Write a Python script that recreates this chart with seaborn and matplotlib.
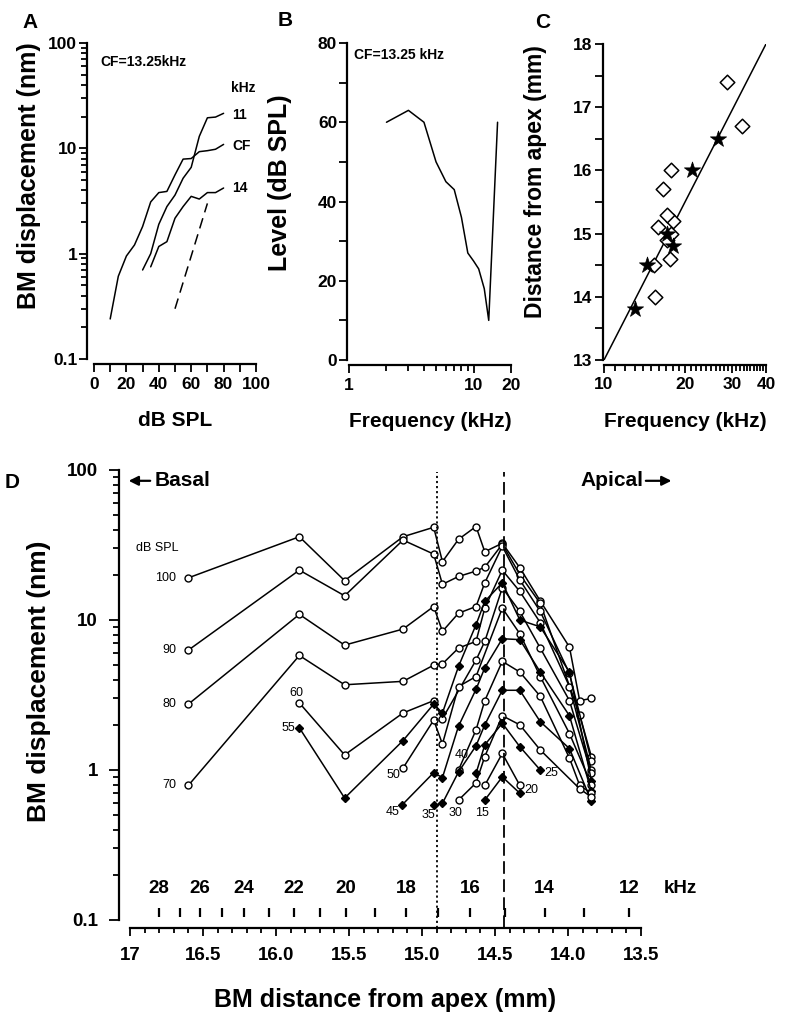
import numpy as np
import pandas as pd
import seaborn as sns
import matplotlib
matplotlib.use("Agg")
import matplotlib.pyplot as plt
from matplotlib.ticker import FixedLocator, FixedFormatter, NullFormatter, LogLocator
import matplotlib.transforms as mtransforms

# ---- panel A: input-output functions (CF = 13.25 kHz)
a_cf_db = [10, 15, 20, 25, 30, 35, 40, 45, 50, 55, 60, 65, 70, 75, 80]
a_cf_nm = [0.24, 0.61, 0.95, 1.21, 1.81, 3.1, 3.8, 3.9, 5.6, 7.9, 8.0, 9.3, 9.5, 9.8, 10.9]
a_11_db = [30, 35, 40, 45, 50, 55, 60, 65, 70, 75, 80]
a_11_nm = [0.70, 1.0, 1.9, 2.8, 3.6, 5.2, 6.6, 13.0, 19.5, 19.8, 21.5]
a_14_db = [35, 40, 45, 50, 55, 60, 65, 70, 75, 80]
a_14_nm = [0.75, 1.17, 1.30, 2.17, 2.8, 3.5, 3.3, 3.8, 3.8, 4.2]
a_post_db = [50, 70]
a_post_nm = [0.30, 3.0]

# ---- panel B: iso-response curve
b_khz = [2, 3, 4, 5, 6, 7, 8, 9, 10, 11, 12.2, 13.25, 15.6]
b_db = [60, 63, 60, 50, 45, 43, 36, 27, 25, 23, 18, 10, 60]

# ---- panel C: place-frequency map
c_star_khz = [13.0, 14.5, 17.2, 18.1, 21.3, 26.5]
c_star_mm = [13.8, 14.5, 15.0, 14.8, 16.0, 16.5]
c_diam_khz = [15.5, 15.3, 17.6, 17.1, 17.7, 18.1, 15.9, 17.1, 16.6, 17.7, 28.6, 32.5]
c_diam_mm = [14.0, 14.5, 14.6, 14.9, 15.0, 15.2, 15.1, 15.3, 15.7, 16.0, 17.4, 16.7]
c_fit_khz = [10, 40]
c_fit_mm = [13.0, 18.0]

# ---- panel D: spatial profiles of BM displacement (dB SPL levels)
d_pos_100 = [16.60, 15.84, 15.53, 15.13, 14.92, 14.86, 14.75, 14.63, 14.57, 14.45, 14.33, 14.19, 13.99, 13.92, 13.84]
d_nm_100 = [19.1, 35.9, 18.3, 35.9, 41.5, 24.5, 34.5, 42.0, 28.5, 32.5, 22.3, 13.4, 6.6, 2.9, 3.0]
d_pos_90 = [16.60, 15.84, 15.53, 15.13, 14.92, 14.86, 14.75, 14.63, 14.57, 14.45, 14.33, 14.19, 13.92, 13.84]
d_nm_90 = [6.3, 21.5, 14.5, 34.1, 27.5, 17.3, 19.5, 21.2, 22.5, 32.0, 20.1, 12.9, 2.33, 1.23]
d_pos_80 = [16.60, 15.84, 15.53, 15.13, 14.92, 14.86, 14.75, 14.63, 14.57, 14.45, 14.33, 14.19, 13.99, 13.84]
d_nm_80 = [2.75, 10.9, 6.8, 8.7, 12.3, 8.4, 11.1, 12.3, 17.7, 31.0, 18.5, 11.4, 4.4, 1.15]
d_pos_70 = [16.60, 15.84, 15.53, 15.13, 14.92, 14.86, 14.75, 14.63, 14.57, 14.45, 14.33, 14.19, 13.99, 13.84]
d_nm_70 = [0.79, 5.8, 3.7, 3.9, 5.0, 5.1, 6.5, 7.2, 12.0, 21.5, 15.5, 9.6, 3.6, 1.0]
d_pos_60 = [15.84, 15.53, 15.13, 14.92, 14.86, 14.63, 14.57, 14.45, 14.33, 14.19, 13.99, 13.84]
d_nm_60 = [2.8, 1.26, 2.4, 2.9, 2.2, 5.4, 7.2, 16.4, 11.4, 6.5, 2.9, 0.95]
d_pos_55 = [15.84, 15.53, 15.13, 14.92, 14.86, 14.75, 14.63, 14.57, 14.45, 14.33, 14.19, 13.99, 13.84]
d_nm_55 = [1.91, 0.65, 1.57, 2.75, 2.4, 4.9, 9.3, 13.3, 17.7, 10.0, 9.0, 4.5, 0.85]
d_pos_50 = [15.13, 14.92, 14.86, 14.75, 14.63, 14.45, 14.33, 14.19, 13.99, 13.84]
d_nm_50 = [1.03, 2.15, 1.49, 3.6, 4.2, 12.0, 8.1, 4.2, 1.75, 0.8]
d_pos_45 = [15.14, 14.92, 14.86, 14.75, 14.63, 14.57, 14.45, 14.33, 14.19, 13.99, 13.84]
d_nm_45 = [0.58, 0.96, 0.89, 1.96, 3.45, 4.8, 7.5, 7.4, 4.5, 2.3, 0.72]
d_pos_40 = [14.75, 14.63, 14.57, 14.45, 14.33, 14.19, 13.99, 13.92, 13.84]
d_nm_40 = [1.0, 1.85, 2.9, 5.3, 4.5, 3.1, 1.2, 0.79, 0.7]
d_pos_35 = [14.92, 14.86, 14.75, 14.63, 14.57, 14.45, 14.33, 14.19, 13.99, 13.84]
d_nm_35 = [0.58, 0.60, 0.97, 1.45, 2.0, 3.4, 3.4, 2.1, 1.39, 0.62]
d_pos_30 = [14.75, 14.63, 14.57, 14.45, 14.33, 14.19, 13.92, 13.84]
d_nm_30 = [0.63, 0.82, 1.23, 2.3, 2.0, 1.36, 0.75, 0.66]
d_pos_25 = [14.63, 14.57, 14.45, 14.33, 14.19]
d_nm_25 = [0.95, 1.47, 2.05, 1.43, 1.0]
d_pos_20 = [14.57, 14.45, 14.33]
d_nm_20 = [0.79, 1.29, 0.79]
d_pos_15 = [14.57, 14.45, 14.33]
d_nm_15 = [0.63, 0.90, 0.70]

# frequency scale drawn inside panel D
khz_values = [28, 27, 26, 25, 24, 23, 22, 21, 20, 19, 18, 17, 16, 15, 14, 13, 12]
khz_pos_mm = [16.80, 16.66, 16.52, 16.37, 16.22, 16.05, 15.88, 15.70, 15.52, 15.32,
              15.11, 14.89, 14.67, 14.43, 14.16, 13.89, 13.58]
khz_labelled = [28, 26, 24, 22, 20, 18, 16, 14, 12]
ref_dotted_mm = 14.90
ref_dashed_mm = 14.44

sns.set_style("ticks")
plt.rcParams['font.family'] = ['Liberation Sans', 'DejaVu Sans']
plt.rcParams['font.weight'] = 'bold'
plt.rcParams['axes.labelweight'] = 'bold'
plt.rcParams['axes.edgecolor'] = 'k'
plt.rcParams['xtick.color'] = 'k'
plt.rcParams['ytick.color'] = 'k'
plt.rcParams['text.color'] = 'k'
plt.rcParams['axes.labelcolor'] = 'k'

W, H = 787, 1032
fig = plt.figure(figsize=(W / 100, H / 100), dpi=100)
ax_a = fig.add_axes([94 / W, 1 - 359 / H, 162 / W, 316 / H])
ax_b = fig.add_axes([349 / W, 1 - 360 / H, 162 / W, 317 / H])
ax_c = fig.add_axes([604 / W, 1 - 360 / H, 162 / W, 316 / H])
ax_d = fig.add_axes([130 / W, 1 - 920 / H, 511 / W, 450 / H])


def frame(ax, left_out, bottom_out, major, minor, size, xpad, ypad):
    sns.despine(ax=ax)
    ax.spines['left'].set_position(('outward', left_out))
    ax.spines['bottom'].set_position(('outward', bottom_out))
    for s in ('left', 'bottom'):
        ax.spines[s].set_linewidth(1.6)
    ax.tick_params(which='both', direction='out', width=1.3, labelsize=size)
    ax.tick_params(which='major', length=major)
    ax.tick_params(which='minor', length=minor)
    ax.tick_params(axis='x', which='both', pad=xpad)
    ax.tick_params(axis='y', which='both', pad=ypad)


line_kw = dict(color='k', lw=1.1, estimator=None, errorbar=None, sort=False)

# ---------------- A
sns.lineplot(x=a_cf_db, y=a_cf_nm, ax=ax_a, **line_kw)
sns.lineplot(x=a_11_db, y=a_11_nm, ax=ax_a, **line_kw)
sns.lineplot(x=a_14_db, y=a_14_nm, ax=ax_a, **line_kw)
sns.lineplot(x=a_post_db, y=a_post_nm, ax=ax_a, linestyle=(0, (7, 4)), **line_kw)
ax_a.set_yscale('log')
ax_a.set_xlim(0, 100)
ax_a.set_ylim(0.1, 100)
ax_a.xaxis.set_major_locator(FixedLocator([0, 20, 40, 60, 80, 100]))
ax_a.xaxis.set_minor_locator(FixedLocator([10, 30, 50, 70, 90]))
ax_a.yaxis.set_major_locator(FixedLocator([0.1, 1, 10, 100]))
ax_a.yaxis.set_major_formatter(FixedFormatter(['0.1', '1', '10', '100']))
ax_a.yaxis.set_minor_locator(LogLocator(base=10, subs=np.arange(2, 10)))
ax_a.yaxis.set_minor_formatter(NullFormatter())
frame(ax_a, 5, 3.6, 5.5, 4, 12.5, 4, 1.5)
ax_a.tick_params(axis='x', which='minor', length=5.5)
ax_a.set_xlabel('dB SPL', fontsize=15)
ax_a.set_ylabel('BM displacement (nm)', fontsize=18)
ax_a.xaxis.set_label_coords(0.5, -0.165)
ax_a.yaxis.set_label_coords(-0.33, 0.58)
ax_a.text(0.04, 0.94, 'CF=13.25kHz', transform=ax_a.transAxes, fontsize=10, va='center')
ax_a.annotate('11', xy=(a_11_db[-1], a_11_nm[-1]), xytext=(6, -1), textcoords='offset points',
              fontsize=10, va='center')
ax_a.annotate('CF', xy=(a_cf_db[-1], a_cf_nm[-1]), xytext=(6, -1), textcoords='offset points',
              fontsize=10, va='center')
ax_a.annotate('14', xy=(a_14_db[-1], a_14_nm[-1]), xytext=(6, 0), textcoords='offset points',
              fontsize=10, va='center')
ax_a.annotate('kHz', xy=(a_11_db[-1], a_11_nm[-1]), xytext=(5, 18), textcoords='offset points',
              fontsize=10, va='center')

# ---------------- B
sns.lineplot(x=b_khz, y=b_db, ax=ax_b, **line_kw)
ax_b.set_xscale('log')
ax_b.set_xlim(1, 20)
ax_b.set_ylim(0, 80)
ax_b.xaxis.set_major_locator(FixedLocator([1, 10, 20]))
ax_b.xaxis.set_major_formatter(FixedFormatter(['1', '10', '20']))
ax_b.xaxis.set_minor_locator(FixedLocator([2, 3, 4, 5, 6, 7, 8, 9]))
ax_b.xaxis.set_minor_formatter(NullFormatter())
ax_b.yaxis.set_major_locator(FixedLocator([0, 20, 40, 60, 80]))
ax_b.yaxis.set_minor_locator(FixedLocator([10, 30, 50, 70]))
frame(ax_b, 1.5, 3.6, 5.5, 4, 12.5, 4, 1.5)
ax_b.tick_params(axis='y', which='minor', length=5.5)
ax_b.set_xlabel('Frequency (kHz)', fontsize=15)
ax_b.set_ylabel('Level (dB SPL)', fontsize=18)
ax_b.xaxis.set_label_coords(0.5, -0.165)
ax_b.yaxis.set_label_coords(-0.35, 0.56)
ax_b.text(0.03, 0.962, 'CF=13.25 kHz', transform=ax_b.transAxes, fontsize=10, va='center')

# ---------------- C
sns.lineplot(x=c_fit_khz, y=c_fit_mm, ax=ax_c, **line_kw)
sns.scatterplot(x=c_diam_khz, y=c_diam_mm, ax=ax_c, marker='D', s=55,
                facecolor='white', edgecolor='k', linewidth=1.1, zorder=3)
sns.scatterplot(x=c_star_khz, y=c_star_mm, ax=ax_c, marker='*', s=150,
                color='k', edgecolor='k', linewidth=0.5, zorder=4)
ax_c.set_xscale('log')
ax_c.set_xlim(10, 40)
ax_c.set_ylim(13, 18)
ax_c.xaxis.set_major_locator(FixedLocator([10, 20, 30, 40]))
ax_c.xaxis.set_major_formatter(FixedFormatter(['10', '20', '30', '40']))
ax_c.xaxis.set_minor_locator(FixedLocator([f for f in range(11, 40) if f % 10]))
ax_c.xaxis.set_minor_formatter(NullFormatter())
ax_c.yaxis.set_major_locator(FixedLocator([13, 14, 15, 16, 17, 18]))
ax_c.yaxis.set_minor_locator(FixedLocator([13.5, 14.5, 15.5, 16.5, 17.5]))
frame(ax_c, 1, 3.6, 5.5, 4, 12.5, 3, 2)
ax_c.tick_params(axis='y', which='minor', length=5.5)
ax_c.set_xlabel('Frequency (kHz)', fontsize=15)
ax_c.set_ylabel('Distance from apex (mm)', fontsize=16.5)
ax_c.xaxis.set_label_coords(0.5, -0.165)
ax_c.yaxis.set_label_coords(-0.35, 0.565)

# ---------------- D
d_sets = [
    ('100', d_pos_100, d_nm_100, False), ('90', d_pos_90, d_nm_90, False),
    ('80', d_pos_80, d_nm_80, False), ('70', d_pos_70, d_nm_70, False),
    ('60', d_pos_60, d_nm_60, False), ('55', d_pos_55, d_nm_55, True),
    ('50', d_pos_50, d_nm_50, False), ('45', d_pos_45, d_nm_45, True),
    ('40', d_pos_40, d_nm_40, False), ('35', d_pos_35, d_nm_35, True),
    ('30', d_pos_30, d_nm_30, False), ('25', d_pos_25, d_nm_25, True),
    ('20', d_pos_20, d_nm_20, False), ('15', d_pos_15, d_nm_15, True),
]
for level, pos, nm, filled in d_sets:
    sns.lineplot(x=pos, y=nm, ax=ax_d, marker='D' if filled else 'o',
                 markersize=4.5 if filled else 5, markerfacecolor='k' if filled else 'white',
                 markeredgecolor='k', markeredgewidth=1.0, **line_kw)

ax_d.set_yscale('log')
ax_d.set_xlim(17, 13.5)
ax_d.set_ylim(0.1, 100)
ax_d.yaxis.set_major_locator(FixedLocator([0.1, 1, 10, 100]))
ax_d.yaxis.set_major_formatter(FixedFormatter(['0.1', '1', '10', '100']))
ax_d.yaxis.set_minor_locator(LogLocator(base=10, subs=np.arange(2, 10)))
ax_d.yaxis.set_minor_formatter(NullFormatter())
ax_d.xaxis.set_major_locator(FixedLocator([17, 16.5, 16, 15.5, 15, 14.5, 14, 13.5]))
ax_d.xaxis.set_major_formatter(FixedFormatter(['17', '16.5', '16.0', '15.5', '15.0', '14.5', '14.0', '13.5']))
ax_d.xaxis.set_minor_locator(FixedLocator(np.round(np.arange(13.6, 17.0, 0.1), 1)))
ax_d.xaxis.set_minor_formatter(NullFormatter())
frame(ax_d, 8, 5.8, 7, 4.3, 13.5, 8, 8)
ax_d.tick_params(axis='x', which='major', length=5.5)
ax_d.tick_params(axis='x', which='minor', length=3.5)
ax_d.set_xlabel('BM distance from apex (mm)', fontsize=18)
ax_d.set_ylabel('BM displacement (nm)', fontsize=19)
ax_d.xaxis.set_label_coords(0.5, -0.15)
ax_d.yaxis.set_label_coords(-0.155, 0.53)

# reference lines
ax_d.axvline(ref_dotted_mm, ymin=-0.018, ymax=0.996, color='k', lw=1.3,
             linestyle=(0, (1.2, 1.6)), clip_on=False)
ax_d.axvline(ref_dashed_mm, ymin=-0.018, ymax=0.996, color='k', lw=1.3,
             linestyle=(0, (7, 3)), clip_on=False)

# kHz scale
ax_d.vlines(khz_pos_mm, 0.104, 0.121, color='k', lw=1.6)
for f, p in zip(khz_values, khz_pos_mm):
    if f in khz_labelled:
        ax_d.text(p, 0.163, str(f), ha='center', va='center', fontsize=13.5)
blend = mtransforms.blended_transform_factory(ax_d.transAxes, ax_d.transData)
ax_d.text(1.078, 0.163, 'kHz', transform=blend, ha='center', va='center', fontsize=13.5)

# direction markers
ax_d.annotate('', xy=(-0.008, 0.976), xytext=(0.045, 0.976), xycoords='axes fraction',
              arrowprops=dict(arrowstyle='-|>', lw=1.6, color='k', mutation_scale=14),
              annotation_clip=False)
ax_d.text(0.049, 0.976, 'Basal', transform=ax_d.transAxes, fontsize=15, va='center')
ax_d.text(0.881, 0.976, 'Apical', transform=ax_d.transAxes, fontsize=15, va='center')
ax_d.annotate('', xy=(1.065, 0.976), xytext=(1.004, 0.976), xycoords='axes fraction',
              arrowprops=dict(arrowstyle='-|>', lw=1.6, color='k', mutation_scale=14),
              annotation_clip=False)

# level labels
small = dict(fontsize=9, fontweight='normal', textcoords='offset points', va='center')
ax_d.text(0.053, 0.827, 'dB SPL', transform=ax_d.transAxes, fontsize=9,
          fontweight='normal', ha='center', va='center')
for lab, pos, nm in [('100', d_pos_100, d_nm_100), ('90', d_pos_90, d_nm_90),
                     ('80', d_pos_80, d_nm_80), ('70', d_pos_70, d_nm_70)]:
    ax_d.annotate(lab, xy=(pos[0], nm[0]), xytext=(-9, 0), ha='right', **small)
ax_d.annotate('60', xy=(d_pos_60[0], d_nm_60[0]), xytext=(-2, 7), ha='center', **small)
ax_d.annotate('55', xy=(d_pos_55[0], d_nm_55[0]), xytext=(-3, 0), ha='right', **small)
ax_d.annotate('50', xy=(d_pos_50[0], d_nm_50[0]), xytext=(-7, -5), ha='center', **small)
ax_d.annotate('45', xy=(d_pos_45[0], d_nm_45[0]), xytext=(-6.5, -5), ha='center', **small)
ax_d.annotate('35', xy=(d_pos_35[0], d_nm_35[0]), xytext=(-4, -7), ha='center', **small)
ax_d.annotate('30', xy=(d_pos_30[0], d_nm_30[0]), xytext=(-2.5, -9.5), ha='center', **small)
ax_d.annotate('15', xy=(d_pos_15[0], d_nm_15[0]), xytext=(-2, -9), ha='center', **small)
ax_d.annotate('40', xy=(d_pos_40[0], d_nm_40[0]), xytext=(2, 11), ha='center', **small)
ax_d.annotate('25', xy=(d_pos_25[-1], d_nm_25[-1]), xytext=(3, -2), ha='left', **small)
ax_d.annotate('20', xy=(d_pos_20[-1], d_nm_20[-1]), xytext=(3, -3), ha='left', **small)

# panel letters
fig.text(30 / W, 1 - 22 / H, 'A', fontsize=15, ha='center', va='center')
fig.text(285 / W, 1 - 20 / H, 'B', fontsize=15, ha='center', va='center')
fig.text(543 / W, 1 - 22 / H, 'C', fontsize=15, ha='center', va='center')
fig.text(12 / W, 1 - 483 / H, 'D', fontsize=15, ha='center', va='center')

fig.savefig('out.png', dpi=100, facecolor='white')
